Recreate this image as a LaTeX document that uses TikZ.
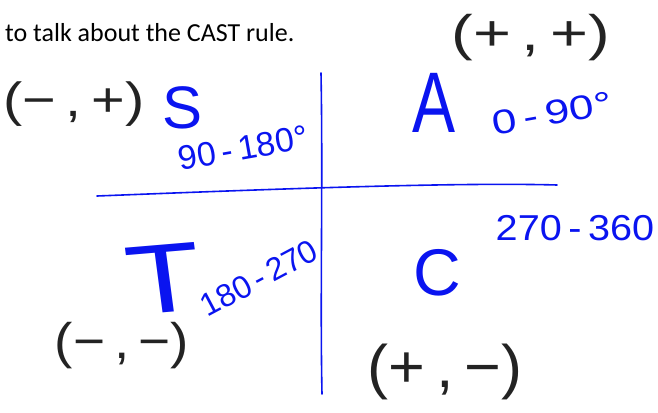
\documentclass[tikz,border=0pt]{standalone}
\usepackage{fontspec}
\setmainfont{Liberation Sans}
\newfontfamily\topfont{Carlito}
\definecolor{penblue}{RGB}{10,20,240}
\definecolor{penblack}{RGB}{35,35,35}
\begin{document}
\begin{tikzpicture}[x=1pt,y=-1pt,
  axis/.style={penblue,line width=1.6pt,line cap=round},
  bluetxt/.style={penblue,inner sep=0pt},
  blacktxt/.style={penblack,inner sep=0pt}]
\useasboundingbox[fill=white] (0,0) rectangle (658,412);
% heading
\node[anchor=west,inner sep=0pt,text=black,font=\topfont\fontsize{26}{30}\selectfont] (head) at (5,33) {to talk about the CAST rule.};
% axes
\coordinate (vtop) at (321,73);
\coordinate (vbot) at (322,394);
\coordinate (hleft) at (97,196);
\coordinate (hright) at (557,185);
\draw[axis] (vtop) .. controls (323,180) and (320,300) .. (vbot);
\draw[axis] (hleft) .. controls (250,190) and (450,182) .. (hright);
% quadrant letters
\node[bluetxt,font=\fontsize{60}{60}\selectfont] (S) at (183,108) {S};
\node[bluetxt,font=\fontsize{86}{86}\selectfont,xscale=0.75] (A) at (434,103) {A};
\node[bluetxt,font=\fontsize{98}{98}\selectfont,xscale=1.25,rotate=6] (T) at (164,279) {T};
\node[bluetxt,font=\fontsize{66}{66}\selectfont] (C) at (437,273) {C};
% angle ranges
\node[bluetxt,font=\fontsize{34}{34}\selectfont,rotate=10] (q2) at (243,148) {90\,-\,180°};
\node[bluetxt,font=\fontsize{34}{34}\selectfont,rotate=10,xscale=1.3] (q1) at (552,113) {0\,-\,90°};
\node[bluetxt,font=\fontsize{32}{32}\selectfont,rotate=28] (q3) at (259,278) {180\,-\,270};
\node[bluetxt,font=\fontsize{36}{36}\selectfont,xscale=1.1] (q4) at (575,228) {270\,-\,360};
% signs
\node[blacktxt,font=\fontsize{48}{48}\selectfont,xscale=1.2] (s2) at (74,104) {(−\,,\,+)};
\node[blacktxt,font=\fontsize{50}{50}\selectfont,xscale=1.3] (s1) at (531,38) {(+\,,\,+)};
\node[blacktxt,font=\fontsize{50}{50}\selectfont,xscale=1.1] (s3) at (122,346) {(−\,,\,−)};
\node[blacktxt,font=\fontsize{60}{60}\selectfont,xscale=1.05] (s4) at (445,372) {(+\,,\,−)};
\end{tikzpicture}
\end{document}
